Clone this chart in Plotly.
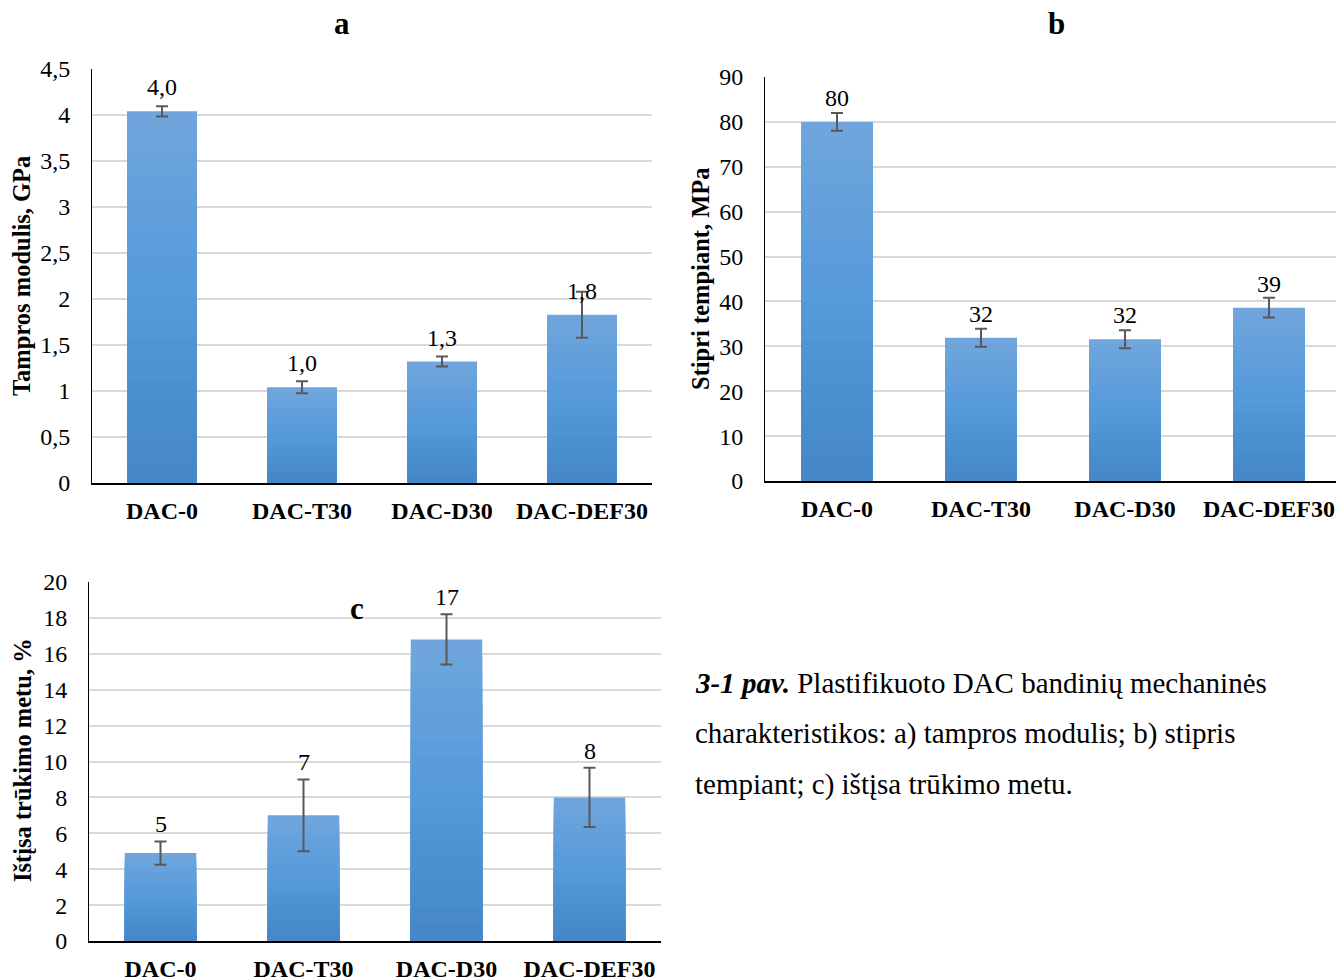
import plotly.graph_objects as go

# ---- data ---------------------------------------------------------------
categories = ["DAC-0", "DAC-T30", "DAC-D30", "DAC-DEF30"]

modulus_gpa = [4.04, 1.04, 1.32, 1.83]
modulus_err = [0.055, 0.065, 0.055, 0.25]

strength_mpa = [80.0, 31.9, 31.6, 38.6]
strength_err = [2.0, 2.0, 2.0, 2.2]

elongation_pct = [4.9, 7.0, 16.8, 8.0]
elongation_err = [0.65, 2.0, 1.4, 1.65]

panel_letters = ["a", "b", "c"]
axis_titles = ["Tampros modulis, GPa", "Stipri tempiant, MPa", "Ištįsa trūkimo metu, %"]

caption_lines = [
    "<b><i>3-1 pav.</i></b> Plastifikuoto DAC bandinių mechaninės",
    "charakteristikos: a) tampros modulis; b) stipris",
    "tempiant; c) ištįsa trūkimo metu.",
]

# ---- styling ------------------------------------------------------------
W, H = 1336, 980
FONT = "Liberation Serif"
ERR = "#595959"
GRID = "#d9d9d9"
# vertical fill gradient of the bars: (fraction of bar height, rgb)
GRAD_STOPS = [(0.0, (68, 134, 198)), (0.5, (86, 154, 218)), (1.0, (112, 166, 220))]
N_SHADES = 18


def grad_color(f):
    for (f0, c0), (f1, c1) in zip(GRAD_STOPS[:-1], GRAD_STOPS[1:]):
        if f <= f1:
            t = (f - f0) / (f1 - f0)
            r, g, b = (round(a + (b_ - a) * t) for a, b_ in zip(c0, c1))
            return f"rgb({r},{g},{b})"
    r, g, b = GRAD_STOPS[-1][1]
    return f"rgb({r},{g},{b})"


def px_x(p):
    return p / W


def px_y(p):
    return 1 - p / H


panels = [
    dict(vals=modulus_gpa, err=modulus_err, decimals=1, ymax=4.5, dtick=0.5,
         xdom=(92, 652), ydom=(69, 483), xend=3.5, above_err=False,
         letter_pos=(342, 24), title_pos=(21, 276)),
    dict(vals=strength_mpa, err=strength_err, decimals=0, ymax=90, dtick=10,
         xdom=(765, 1336), ydom=(77, 481), xend=3.5 - 5 / 144, above_err=False,
         letter_pos=(1056, 24), title_pos=(700, 279)),
    dict(vals=elongation_pct, err=elongation_err, decimals=0, ymax=20, dtick=2,
         xdom=(89, 661), ydom=(582, 941), xend=3.5, above_err=True,
         letter_pos=(357, 608), title_pos=(22, 760)),
]

fig = go.Figure()
annotations = []

for i, p in enumerate(panels):
    n = "" if i == 0 else str(i + 1)
    xa, ya = "x" + n, "y" + n
    vals = p["vals"]

    # bars: overlaid shades, each a shorter copy of the series, so the
    # fill runs from light at the top of every bar to darker at its base
    for k in range(N_SHADES):
        frac = (N_SHADES - k) / N_SHADES
        fig.add_trace(go.Bar(
            x=categories, y=[v * frac for v in vals], width=0.5,
            marker=dict(color=grad_color(frac - 0.5 / N_SHADES), line=dict(width=0)),
            xaxis=xa, yaxis=ya, showlegend=False,
            hoverinfo="skip" if k else "x+y",
        ))

    # error bars on top of the fill
    fig.add_trace(go.Bar(
        x=categories, y=vals, width=0.5,
        marker=dict(color="rgba(0,0,0,0)", line=dict(width=0)),
        error_y=dict(type="data", array=p["err"], visible=True,
                     color=ERR, thickness=2, width=6),
        xaxis=xa, yaxis=ya, showlegend=False, hoverinfo="skip",
    ))

    fig.layout["xaxis" + n] = dict(
        domain=[px_x(p["xdom"][0]), px_x(p["xdom"][1])], anchor=ya,
        type="category", range=[-0.5, p["xend"]], automargin=False,
        showline=True, linecolor="#000000", linewidth=2,
        showgrid=False, zeroline=False, ticks="",
        ticklabelstandoff=5,
        tickfont=dict(family=FONT, size=24, color="#000000", weight="bold"),
    )
    fig.layout["yaxis" + n] = dict(
        domain=[px_y(p["ydom"][1]), px_y(p["ydom"][0])], anchor=xa,
        range=[0, p["ymax"]], dtick=p["dtick"], tick0=0, automargin=False,
        showline=True, linecolor="#000000", linewidth=1,
        showgrid=True, gridcolor=GRID, gridwidth=1.5,
        zeroline=False, ticks="", ticklabelstandoff=16,
        tickfont=dict(family=FONT, size=24, color="#000000"),
    )

    # value labels above each bar
    for c, v, e in zip(categories, vals, p["err"]):
        label = f"{v:.{p['decimals']}f}".replace(".", ",")
        annotations.append(dict(
            x=c, y=v + e if p["above_err"] else v, xref=xa, yref=ya,
            text=label, showarrow=False, yanchor="middle",
            yshift=17 if p["above_err"] else 24,
            font=dict(family=FONT, size=24, color="#000000"),
        ))

    # panel letter
    lx, ly = p["letter_pos"]
    annotations.append(dict(
        x=px_x(lx), y=px_y(ly), xref="paper", yref="paper",
        text=f"<b>{panel_letters[i]}</b>", showarrow=False,
        xanchor="center", yanchor="middle",
        font=dict(family=FONT, size=31, color="#000000"),
    ))

    # vertical axis title
    tx, ty = p["title_pos"]
    annotations.append(dict(
        x=px_x(tx), y=px_y(ty), xref="paper", yref="paper",
        text=f"<b>{axis_titles[i]}</b>", showarrow=False, textangle=-90,
        xanchor="center", yanchor="middle",
        font=dict(family=FONT, size=24.5, color="#000000"),
    ))

# figure caption
for k, line in enumerate(caption_lines):
    annotations.append(dict(
        x=px_x(693), y=px_y(683 + 50.5 * k), xref="paper", yref="paper",
        text=line, showarrow=False, xanchor="left", yanchor="middle",
        font=dict(family=FONT, size=29, color="#000000"),
    ))

fig.update_layout(
    width=W, height=H,
    margin=dict(l=0, r=0, t=0, b=0, autoexpand=False),
    paper_bgcolor="#ffffff", plot_bgcolor="#ffffff",
    barmode="overlay",
    separators=", ",
    annotations=annotations,
    font=dict(family=FONT, color="#000000"),
)

fig.write_html("out.html")
